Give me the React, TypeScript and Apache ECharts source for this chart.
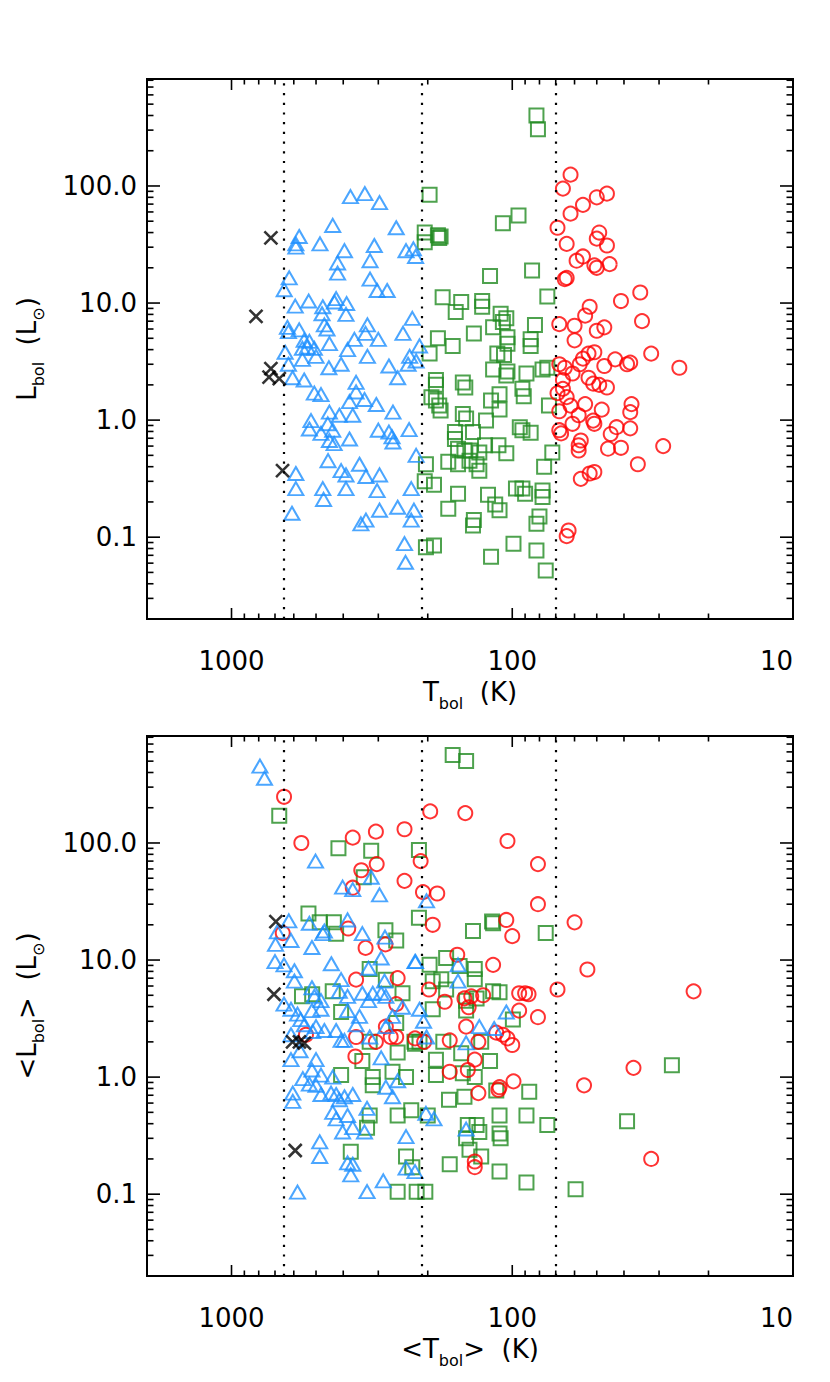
import React, { useEffect, useRef } from 'react';
import * as echarts from 'echarts';

// ---------------- data (Tbol [K], Lbol [Lsun]) ----------------
// class boundaries drawn as dotted lines
const classBoundaries = [650, 210, 70];

// axis ticks
const xTickMajor = [10, 100, 1000];
const xTickMinor = [20, 30, 40, 50, 60, 70, 80, 90, 200, 300, 400, 500, 600, 700, 800, 900];
const yTickMajor = [0.1, 1, 10, 100];
const yTickMinor = [
  0.03, 0.04, 0.05, 0.06, 0.07, 0.08, 0.09,
  0.2, 0.3, 0.4, 0.5, 0.6, 0.7, 0.8, 0.9,
  2, 3, 4, 5, 6, 7, 8, 9,
  20, 30, 40, 50, 60, 70, 80, 90,
  200, 300, 400, 500, 600, 700, 800,
];

// ---- top panel: Tbol vs Lbol ----
const topTriangles = [
  [377, 81], [335, 86], [297, 72], [436, 46], [259, 44], [574, 37], [590, 32], [590, 30], [484, 32], [310, 31],
  [396, 28], [239, 28], [225, 29], [221, 25], [419, 22], [321, 23], [419, 18], [623, 16.4], [321, 16], [649, 13],
  [303, 12.8], [279, 12.8], [531, 10.4], [593, 9.4], [424, 10.9], [430, 10.2], [473, 9.3], [389, 9.9], [391, 8.0], [476, 8.1],
  [227, 7.4], [632, 6.2], [627, 5.7], [574, 5.9], [467, 6.5], [457, 6.0], [328, 6.5], [245, 5.5], [333, 5.5], [300, 4.9],
  [365, 4.9], [214, 4.3], [551, 4.8], [528, 4.7], [537, 4.2], [507, 4.1], [559, 4.1], [448, 4.5], [386, 4.0], [644, 3.8],
  [328, 3.5], [500, 3.5], [232, 3.5], [220, 3.2], [559, 3.3], [627, 3.0], [275, 2.9], [407, 3.0], [450, 2.8], [235, 3.0],
  [606, 2.3], [551, 2.2], [256, 2.3], [360, 2.1], [507, 1.7], [480, 1.65], [360, 1.74], [336, 1.5], [305, 1.36], [380, 1.44],
  [266, 1.17], [448, 1.17], [413, 1.1], [370, 1.1], [521, 0.99], [528, 0.84], [454, 0.93], [480, 0.77], [436, 0.82], [300, 0.82],
  [275, 0.79], [268, 0.72], [233, 0.83], [380, 0.69], [448, 0.67], [431, 0.63], [266, 0.65], [453, 0.45], [220, 0.5], [350, 0.42],
  [590, 0.35], [407, 0.37], [391, 0.34], [332, 0.33], [297, 0.34], [590, 0.26], [473, 0.26], [391, 0.26], [303, 0.25], [229, 0.26],
  [470, 0.21], [609, 0.16], [297, 0.17], [256, 0.18], [224, 0.17], [332, 0.14], [346, 0.13], [229, 0.14], [242, 0.088], [240, 0.061],
];
const topSquares = [
  [82, 400], [81, 305], [197, 84], [95, 56], [108, 48], [205, 40], [184, 38], [180, 37], [182, 36], [205, 33],
  [120, 17], [85, 19], [177, 11.2], [75, 11.4], [152, 10.2], [128, 10.4], [128, 9.3], [159, 8.4], [110, 8.1], [105, 7.4],
  [108, 6.9], [83, 6.5], [137, 5.5], [117, 6.2], [184, 5.0], [163, 4.3], [197, 3.7], [104, 5.1], [104, 4.5], [86, 4.9],
  [86, 4.3], [113, 3.7], [107, 3.6], [117, 2.7], [104, 2.6], [89, 2.5], [78, 2.7], [75, 2.8], [187, 2.2], [187, 2.0],
  [150, 2.1], [147, 1.9], [105, 2.4], [92, 1.85], [194, 1.57], [187, 1.47], [119, 1.47], [111, 1.66], [91, 1.6], [74, 1.33],
  [182, 1.33], [180, 1.21], [150, 1.13], [146, 1.03], [124, 0.99], [111, 1.23], [94, 0.87], [92, 0.82], [86, 0.78], [160, 0.79],
  [160, 0.69], [138, 0.79], [156, 0.57], [148, 0.55], [141, 0.55], [131, 0.53], [125, 0.61], [112, 0.61], [105, 0.52], [72, 0.53],
  [169, 0.44], [156, 0.42], [142, 0.45], [134, 0.42], [131, 0.37], [77, 0.4], [203, 0.42], [205, 0.3], [190, 0.28], [156, 0.235],
  [122, 0.23], [115, 0.19], [111, 0.17], [97, 0.26], [92, 0.26], [90, 0.235], [78, 0.25], [78, 0.22], [169, 0.175], [137, 0.14],
  [138, 0.126], [80, 0.15], [82, 0.13], [203, 0.082], [190, 0.085], [99, 0.088], [119, 0.068], [82, 0.077], [76, 0.052],
];
const topCircles = [
  [62, 125], [66, 95], [56, 69], [50, 80], [46, 86], [62, 58], [69, 44], [49, 40], [50, 35.5], [46, 31],
  [64, 32], [56, 25], [59, 23], [51, 21], [50, 20], [45, 21.5], [64, 16.4], [65, 16], [35, 12.3], [41, 10.4],
  [53, 9.3], [55, 7.8], [34.5, 7.0], [68, 6.6], [60, 6.4], [47, 6.2], [50, 5.8], [60, 4.8], [32, 3.7], [53.5, 3.7],
  [51, 3.8], [56, 3.35], [57.5, 3.0], [43, 3.3], [39, 3.0], [38, 3.1], [47, 2.9], [25.4, 2.8], [68, 3.0], [65, 2.8],
  [61, 2.5], [53.5, 2.3], [51.5, 2.05], [49, 2.0], [46, 1.9], [66, 2.2], [66, 1.85], [69, 1.7], [64, 1.57], [62, 1.33],
  [55, 1.37], [37.6, 1.37], [38, 1.17], [48, 1.23], [68, 1.19], [58, 1.1], [51.5, 0.99], [51, 0.93], [61, 0.93], [38, 0.85],
  [42.5, 0.87], [68, 0.82], [67, 0.77], [57, 0.67], [58, 0.61], [58, 0.55], [45.6, 0.57], [41, 0.58], [44.6, 0.76], [29, 0.6],
  [35.7, 0.42], [57, 0.315], [53, 0.35], [51, 0.36], [63, 0.114], [64, 0.102],
];
const topCrosses = [[724, 36], [818, 7.7], [724, 2.75], [735, 2.33], [676, 2.26], [658, 0.37]];

// ---- bottom panel: <Tbol> vs <Lbol> ----
const bottomTriangles = [
  [792, 454], [763, 357], [502, 70], [402, 42], [370, 40], [318, 51], [297, 36], [625, 21.6], [528, 20.6], [467, 17.7],
  [473, 16.8], [386, 22], [342, 16.8], [687, 17.4], [697, 13.6], [614, 14.7], [517, 12.8], [284, 15.7], [293, 10.4], [700, 9.7],
  [650, 9.1], [597, 8.1], [597, 6.6], [441, 9.3], [325, 8.5], [222, 9.7], [407, 6.8], [285, 6.6], [517, 5.8], [507, 4.9],
  [480, 4.5], [413, 5.4], [386, 4.9], [342, 5.2], [314, 5.2], [325, 4.5], [293, 5.2], [282, 4.9], [246, 3.95], [214, 3.8],
  [650, 4.2], [614, 3.8], [582, 3.45], [567, 3.1], [550, 2.8], [517, 3.7], [480, 3.8], [386, 3.7], [350, 3.3], [360, 2.8],
  [267, 3.3], [614, 2.3], [514, 2.45], [500, 2.7], [467, 2.5], [424, 2.5], [407, 2.06], [396, 2.06], [322, 2.2], [282, 2.7],
  [614, 1.41], [570, 1.68], [500, 1.41], [293, 1.46], [557, 0.97], [517, 1.15], [480, 1.04], [436, 1.0], [605, 0.73], [605, 0.62],
  [528, 0.87], [500, 0.85], [480, 0.71], [442, 0.73], [424, 0.71], [413, 0.64], [396, 0.68], [370, 0.71], [329, 0.54], [282, 0.82],
  [267, 0.68], [256, 0.93], [436, 0.5], [424, 0.44], [386, 0.47], [402, 0.34], [370, 0.37], [336, 0.34], [485, 0.28], [485, 0.21],
  [386, 0.185], [370, 0.18], [376, 0.146], [239, 0.31], [239, 0.167], [222, 0.156], [288, 0.13], [582, 0.104], [329, 0.105],
  [202, 32], [221, 9.7], [156, 9.1], [156, 6.6], [207, 3.0], [202, 2.2], [105, 3.6], [131, 2.7], [116, 2.6], [146, 1.96],
  [203, 0.49], [190, 0.44], [146, 0.36],
];
const bottomSquares = [
  [676, 171], [416, 90], [318, 86], [215, 87], [338, 51], [215, 23], [532, 25], [485, 21], [432, 21], [424, 16.8],
  [283, 18], [259, 14.7], [322, 8.4], [282, 6.8], [561, 4.9], [516, 5.1], [436, 5.4], [407, 3.6], [246, 5.2], [259, 2.9],
  [322, 2.0], [256, 1.62], [222, 1.93], [407, 1.04], [342, 1.37], [314, 1.0], [314, 0.85], [267, 1.11], [239, 1.0], [322, 0.47],
  [256, 0.47], [229, 0.52], [329, 0.37], [376, 0.23], [239, 0.21], [227, 0.17], [256, 0.105], [219, 0.105], [204, 0.105],
  [163, 565], [146, 502], [118, 21.3], [117, 20.6], [138, 17.7], [76, 17], [197, 9.1], [172, 10.4], [154, 8.9], [136, 8.4],
  [192, 6.6], [179, 6.85], [136, 6.85], [172, 5.6], [146, 4.5], [134, 4.7], [117, 5.4], [111, 5.3], [192, 3.8], [146, 3.7],
  [99.5, 3.1], [223, 2.0], [214, 2.0], [176, 2.0], [129, 2.0], [187, 1.41], [152, 1.6], [120, 1.37], [187, 1.04], [150, 1.08],
  [136, 1.0], [168, 0.64], [148, 0.68], [114, 0.77], [87, 0.75], [27, 1.26], [200, 0.47], [111, 0.47], [89, 0.47], [75, 0.39],
  [39, 0.42], [144, 0.39], [134, 0.39], [131, 0.34], [111, 0.33], [110, 0.3], [146, 0.3], [142, 0.24], [129, 0.21], [167, 0.18],
  [111, 0.156], [89, 0.126], [59.5, 0.11],
];
const bottomCircles = [
  [650, 248], [564, 100], [370, 111], [306, 125], [242, 131], [304, 66], [345, 58.5], [212, 70], [370, 41.5], [242, 47.5],
  [657, 17], [384, 18.6], [333, 12.7], [283, 13.6], [360, 6.8], [256, 7.0], [259, 4.2], [282, 2.7], [271, 2.2], [259, 2.2],
  [222, 2.14], [360, 2.2], [306, 2.0], [543, 2.3], [362, 1.5],
  [196, 186], [147, 180], [104, 104], [81, 66], [208, 38], [185, 37], [81, 30], [192, 20], [105, 22], [100, 16],
  [60, 21], [54, 8.3], [157, 11.1], [117, 9.1], [198, 5.6], [174, 4.4], [148, 4.7], [140, 4.9], [127, 5.0], [94.5, 5.2],
  [90, 5.2], [87.5, 5.1], [69, 5.6], [22.6, 5.4], [143, 3.95], [94.5, 3.7], [81, 3.25], [146, 2.7], [114, 2.4], [108, 2.3],
  [104, 2.14], [100, 1.88], [206, 2.0], [167, 2.06], [132, 2.0], [136, 1.41], [144, 1.15], [167, 1.11], [99, 0.92], [111, 0.82],
  [112, 0.78], [132, 0.73], [55.5, 0.85], [37, 1.2], [32, 0.2], [136, 0.19], [136, 0.17],
];
const bottomCrosses = [[695, 21.3], [706, 5.1], [606, 2.0], [573, 2.0], [550, 1.95], [593, 0.236]];

// ---------------- styling ----------------
const FONT = 'DejaVu Sans';
const BLUE = '#1E90FF';
const GREEN = '#228B22';
const RED = '#FF0000';
const PANEL_TOPS = [79, 736];
const PANEL_LEFT = 147;
const PANEL_W = 646;
const PANEL_H = 540;

const isDecade = (v: number) => {
  const e = Math.log10(v);
  return Math.abs(e - Math.round(e)) < 1e-6;
};
const fmtX = (v: number) => (isDecade(v) ? String(Math.round(v)) : '');
const fmtY = (v: number) => {
  if (!isDecade(v)) return '';
  const r = Math.pow(10, Math.round(Math.log10(v)));
  return r < 1 ? String(+r.toPrecision(1)) : r.toFixed(1);
};

const tickData = [
  ...xTickMajor.map((v) => [v, 1, 1]),
  ...xTickMinor.map((v) => [v, 1, 0]),
  ...yTickMajor.map((v) => [100, v, 3]),
  ...yTickMinor.map((v) => [100, v, 2]),
];

function tickRender(params: any, api: any) {
  const cs = params.coordSys;
  const kind = api.value(2);
  const p = api.coord([api.value(0), api.value(1)]);
  const style = { stroke: '#000', lineWidth: 1.6 };
  if (kind < 2) {
    const len = kind === 1 ? 11 : 5.5;
    return {
      type: 'group',
      children: [
        { type: 'line', shape: { x1: p[0], y1: cs.y + cs.height, x2: p[0], y2: cs.y + cs.height - len }, style },
        { type: 'line', shape: { x1: p[0], y1: cs.y, x2: p[0], y2: cs.y + len }, style },
      ],
    };
  }
  const len = kind === 3 ? 13 : 6.5;
  return {
    type: 'group',
    children: [
      { type: 'line', shape: { x1: cs.x, y1: p[1], x2: cs.x + len, y2: p[1] }, style },
      { type: 'line', shape: { x1: cs.x + cs.width, y1: p[1], x2: cs.x + cs.width - len, y2: p[1] }, style },
    ],
  };
}

const richBase = {
  a: { fontSize: 26, fontFamily: FONT, color: '#000', lineHeight: 38, verticalAlign: 'middle' },
  s: { fontSize: 16, fontFamily: FONT, color: '#000', lineHeight: 16, verticalAlign: 'bottom' },
};

function titleText(x: number, y: number, text: string, rotate: boolean) {
  return {
    type: 'text',
    x,
    y,
    rotation: rotate ? Math.PI / 2 : 0,
    silent: true,
    style: { text, rich: richBase, align: 'center', verticalAlign: 'middle', fill: '#000' },
  };
}

function buildOption() {
  const grids = PANEL_TOPS.map((top) => ({
    left: PANEL_LEFT,
    top,
    width: PANEL_W,
    height: PANEL_H,
    show: true,
    borderColor: '#000',
    borderWidth: 2,
    backgroundColor: 'transparent',
  }));
  const xAxes = PANEL_TOPS.map((_, i) => ({
    type: 'log',
    logBase: 10,
    gridIndex: i,
    min: 10,
    max: 2000,
    inverse: true,
    axisLine: { show: false },
    axisTick: { show: false },
    splitLine: { show: false },
    axisLabel: {
      color: '#000',
      fontSize: 26,
      fontFamily: FONT,
      margin: 29,
      formatter: fmtX,
      showMinLabel: true,
      showMaxLabel: false,
      alignMinLabel: 'right',
    },
  }));
  const yAxes = PANEL_TOPS.map((_, i) => ({
    type: 'log',
    logBase: 10,
    gridIndex: i,
    min: 0.02,
    max: 820,
    axisLine: { show: false },
    axisTick: { show: false },
    splitLine: { show: false },
    axisLabel: {
      color: '#000',
      fontSize: 26,
      fontFamily: FONT,
      margin: 10,
      formatter: fmtY,
      showMinLabel: false,
      showMaxLabel: false,
    },
  }));

  const scatter = (data: number[][], i: number, symbol: string, size: any, color: string, width: number, extra: any = {}) => ({
    type: 'scatter',
    xAxisIndex: i,
    yAxisIndex: i,
    data,
    symbol,
    symbolSize: size,
    itemStyle: { color: 'rgba(0,0,0,0)', borderColor: color, borderWidth: width },
    emphasis: { disabled: true },
    silent: true,
    ...extra,
  });

  const markLine = {
    silent: true,
    symbol: ['none', 'none'],
    label: { show: false },
    lineStyle: { color: '#000', type: [2.2, 7.5], width: 2.2 },
    data: classBoundaries.map((v) => ({ xAxis: v })),
  };

  const panels = [
    { tri: topTriangles, sq: topSquares, ci: topCircles, cr: topCrosses },
    { tri: bottomTriangles, sq: bottomSquares, ci: bottomCircles, cr: bottomCrosses },
  ];
  const series: any[] = [];
  panels.forEach((p, i) => {
    series.push(scatter(p.sq, i, 'rect', 14, GREEN, 2, { markLine }));
    series.push(scatter(p.ci, i, 'circle', 14, RED, 2));
    series.push(scatter(p.tri, i, 'triangle', [15, 13], BLUE, 2));
    series.push(scatter(p.cr, i, 'path://M0 0L10 10M10 0L0 10', 13, '#000', 2.6));
    series.push({
      type: 'custom',
      xAxisIndex: i,
      yAxisIndex: i,
      data: tickData,
      renderItem: tickRender,
      silent: true,
      z: 10,
    });
  });

  return {
    animation: false,
    backgroundColor: '#ffffff',
    grid: grids,
    xAxis: xAxes,
    yAxis: yAxes,
    series,
    graphic: [
      titleText(470, 692, '{a|T}{s|bol}{a|  (K)}', false),
      titleText(470, 1349, '{a|<T}{s|bol}{a|>  (K)}', false),
      titleText(27, 349, '{a|L}{s|bol}{a|  (L}{s|⊙}{a|)}', true),
      titleText(27, 1006, '{a|<L}{s|bol}{a|>  (L}{s|⊙}{a|)}', true),
    ],
  };
}

export default function App() {
  const ref = useRef<HTMLDivElement>(null);
  useEffect(() => {
    if (!ref.current) return;
    const chart = echarts.init(ref.current, undefined, { renderer: 'svg' });
    chart.setOption(buildOption() as any);
    return () => chart.dispose();
  }, []);
  return (
    <div
      ref={ref}
      style={{ position: 'absolute', left: 0, top: 0, width: 830, height: 1382, background: '#fff' }}
    />
  );
}
